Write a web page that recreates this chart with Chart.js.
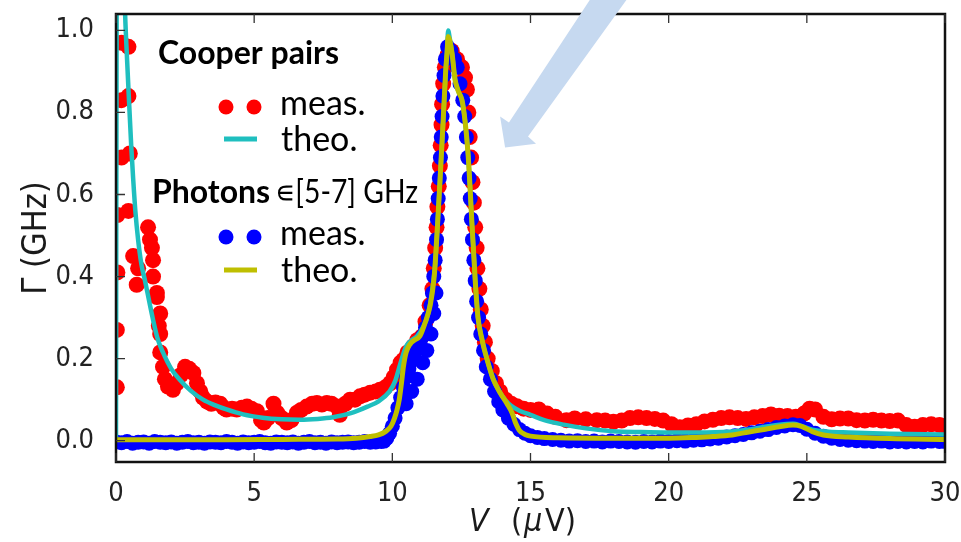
<!DOCTYPE html>
<html>
<head>
<meta charset="utf-8">
<script src="https://cdn.jsdelivr.net/npm/chart.js@4.4.0/dist/chart.umd.min.js"></script>
<style>
  html, body { margin: 0; padding: 0; background: #fff; }
  #wrap { width: 961px; height: 542px; position: relative; }
</style>
</head>
<body>
<div id="wrap"><canvas id="rateChart"></canvas></div>
<script>
// tick positions
var xTicks = [0, 5, 10, 15, 20, 25, 30];
var yTicks = [0.0, 0.2, 0.4, 0.6, 0.8, 1.0];

// Cooper pairs, measured (V in uV, rate in GHz)
var cpMeasV = [0.03, 0.03, 0.05, 0.05, 0.2, 0.5, 0.2, 0.45, 0.2, 0.45, 0.45, 0.62, 0.75, 0.8, 1.16, 1.23, 1.3, 1.34, 1.34, 1.48,
  1.48, 1.6, 1.55, 1.6, 1.6, 1.7, 1.77, 1.88, 2.06, 2.2, 2.35, 2.5, 2.65, 2.8, 2.93, 3.05, 3.15, 3.3, 3.45, 3.6,
  3.77, 3.9, 4.0, 4.2, 4.37, 4.55, 4.74, 4.9, 5.1, 5.25, 5.35, 5.5, 5.7, 5.83, 6.0, 6.18, 6.35, 6.55, 6.7, 6.9,
  7.1, 7.27, 7.45, 7.63, 7.8, 8.0, 8.1, 8.3, 8.47, 8.65, 8.83, 9.0, 9.2, 9.4, 9.55, 9.75, 9.92, 10.05, 10.17, 10.3,
  10.4, 10.55, 10.75, 10.9, 11.07, 11.2, 11.35, 11.45, 11.5, 11.55, 11.6, 11.63, 11.68, 11.72, 11.75, 11.78, 11.8, 11.84, 11.9, 12.0,
  12.15, 12.34, 12.52, 12.63, 12.7, 12.75, 12.8, 12.85, 12.9, 12.95, 13.0, 13.05, 13.08, 13.15, 13.2, 13.27, 13.35, 13.45, 13.6, 13.75,
  13.9, 14.1, 14.3, 14.5, 14.75, 15.0, 15.3, 15.6, 15.9, 16.3, 16.6, 17.0, 17.4, 17.7, 18.0, 18.3, 18.6, 18.9, 19.2, 19.5,
  19.8, 20.1, 20.4, 20.7, 21.0, 21.3, 21.6, 21.9, 22.2, 22.5, 22.8, 23.1, 23.4, 23.7, 24.0, 24.3, 24.6, 24.9, 25.1, 25.3,
  25.6, 25.9, 26.2, 26.5, 26.8, 27.1, 27.4, 27.7, 28.0, 28.3, 28.6, 28.9, 29.2, 29.5, 29.8, 30.0];
var cpMeasG = [0.13, 0.27, 0.41, 0.55, 0.69, 0.70, 0.83, 0.84, 0.97, 0.96, 0.56, 0.45, 0.38, 0.42, 0.52, 0.49, 0.47, 0.44, 0.40, 0.36,
  0.35, 0.31, 0.28, 0.26, 0.215, 0.18, 0.15, 0.132, 0.124, 0.14, 0.16, 0.18, 0.175, 0.165, 0.14, 0.12, 0.105, 0.095, 0.09, 0.093,
  0.09, 0.08, 0.076, 0.078, 0.076, 0.08, 0.083, 0.078, 0.072, 0.05, 0.044, 0.055, 0.09, 0.068, 0.055, 0.044, 0.05, 0.068, 0.075, 0.083,
  0.09, 0.092, 0.088, 0.092, 0.09, 0.083, 0.063, 0.09, 0.10, 0.10, 0.108, 0.112, 0.117, 0.12, 0.124, 0.13, 0.14, 0.155, 0.173, 0.19,
  0.197, 0.215, 0.23, 0.245, 0.254, 0.29, 0.33, 0.37, 0.42, 0.47, 0.52, 0.57, 0.62, 0.67, 0.72, 0.77, 0.82, 0.87, 0.91, 0.94,
  0.95, 0.93, 0.91, 0.885, 0.856, 0.80, 0.74, 0.69, 0.63, 0.58, 0.52, 0.47, 0.42, 0.37, 0.32, 0.28, 0.24, 0.20, 0.17, 0.14,
  0.12, 0.10, 0.09, 0.084, 0.078, 0.075, 0.076, 0.066, 0.058, 0.05, 0.054, 0.052, 0.05, 0.049, 0.046, 0.049, 0.055, 0.057, 0.055, 0.053,
  0.049, 0.04, 0.033, 0.037, 0.04, 0.047, 0.051, 0.055, 0.057, 0.055, 0.053, 0.057, 0.06, 0.064, 0.061, 0.06, 0.058, 0.066, 0.078, 0.076,
  0.058, 0.052, 0.054, 0.054, 0.05, 0.049, 0.051, 0.049, 0.048, 0.049, 0.038, 0.034, 0.038, 0.04, 0.038, 0.036];

// photons 5-7 GHz, measured
var phMeasV = [0, 0.2, 0.4, 0.6, 0.8, 1.0, 1.2, 1.4, 1.6, 1.8, 2.0, 2.2, 2.4, 2.6, 2.8, 3.0, 3.2, 3.4, 3.6, 3.8,
  4.0, 4.2, 4.4, 4.6, 4.8, 5.0, 5.2, 5.4, 5.6, 5.8, 6.0, 6.2, 6.4, 6.6, 6.8, 7.0, 7.2, 7.4, 7.6, 7.8,
  8.0, 8.2, 8.4, 8.6, 8.8, 9.0, 9.2, 9.4, 9.6, 9.7, 9.8, 9.9, 10.0, 10.1, 10.2, 10.3, 10.4, 10.5, 10.6, 10.7,
  10.8, 10.9, 11.0, 11.1, 11.2, 11.3, 11.4, 11.45, 11.5, 11.55, 11.6, 11.63, 11.66, 11.7, 11.74, 11.77, 11.8, 11.83, 11.87, 11.92,
  12.0, 12.12, 12.25, 12.35, 12.45, 12.55, 12.62, 12.68, 12.73, 12.78, 12.82, 12.86, 12.9, 12.95, 13.0, 13.05, 13.12, 13.2, 13.3, 13.4,
  13.55, 13.7, 13.85, 14.0, 14.2, 14.4, 14.6, 14.8, 15.0, 15.25, 15.5, 15.8, 16.1, 16.4, 16.7, 17.0, 17.3, 17.6, 17.9, 18.2,
  18.5, 18.8, 19.1, 19.4, 19.7, 20.0, 20.3, 20.6, 20.9, 21.2, 21.5, 21.8, 22.1, 22.4, 22.7, 23.0, 23.3, 23.6, 23.9, 24.2,
  24.5, 24.75, 25.0, 25.3, 25.6, 25.9, 26.2, 26.5, 26.8, 27.1, 27.4, 27.7, 28.0, 28.3, 28.6, 28.9, 29.2, 29.5, 29.8, 30.0,
  10.5, 10.7, 10.9, 11.1, 11.25, 11.4, 11.5, 11.58];
var phMeasG = [-0.003, -0.005, -0.002, -0.006, -0.004, -0.003, -0.006, -0.002, -0.004, -0.005, -0.003, -0.006, -0.004, -0.002, -0.005, -0.004, -0.006, -0.003, -0.004, -0.005,
  -0.002, -0.004, -0.006, -0.003, -0.005, -0.004, -0.002, -0.005, -0.006, -0.003, -0.004, -0.005, -0.003, -0.006, -0.004, -0.002, -0.005, -0.004, -0.006, -0.003,
  -0.005, -0.004, -0.003, -0.005, -0.004, -0.002, -0.004, -0.003, -0.002, -0.001, 0.006, 0.018, 0.035, 0.055, 0.08, 0.105, 0.13, 0.155, 0.175, 0.195,
  0.21, 0.225, 0.24, 0.255, 0.275, 0.30, 0.33, 0.36, 0.40, 0.44, 0.49, 0.54, 0.59, 0.64, 0.69, 0.74, 0.79, 0.84, 0.89, 0.93,
  0.96, 0.95, 0.93, 0.91, 0.87, 0.83, 0.79, 0.74, 0.69, 0.64, 0.59, 0.54, 0.49, 0.44, 0.39, 0.34, 0.30, 0.26, 0.22, 0.18,
  0.15, 0.12, 0.095, 0.075, 0.055, 0.04, 0.027, 0.018, 0.012, 0.008, 0.005, 0.003, 0.001, -0.001, 0.0, -0.002, -0.001, -0.003, -0.001, -0.002,
  -0.003, -0.004, -0.002, -0.003, -0.001, -0.002, 0.0, -0.001, 0.001, 0.002, 0.004, 0.006, 0.009, 0.012, 0.015, 0.019, 0.023, 0.027, 0.032, 0.036,
  0.039, 0.037, 0.028, 0.018, 0.011, 0.006, 0.003, 0.001, 0.0, -0.001, -0.002, -0.001, -0.003, -0.002, -0.003, -0.002, -0.003, -0.001, -0.002, -0.002,
  0.09, 0.12, 0.15, 0.19, 0.22, 0.26, 0.31, 0.36];

// Cooper pairs, theory
var cpTheoV = [0.0, 0.03, 0.12, 0.25, 0.33, 0.4, 0.47, 0.55, 0.62, 0.7, 0.8, 0.92, 1.05, 1.2, 1.34, 1.5, 1.7, 2.0, 2.3, 2.7,
  3.15, 3.6, 4.0, 4.6, 5.3, 6.0, 6.66, 7.3, 7.85, 8.5, 9.1, 9.5, 9.9, 10.1, 10.3, 10.5, 10.7, 10.9, 11.1, 11.3,
  11.45, 11.55, 11.66, 11.73, 11.84, 11.93, 11.98, 12.02, 12.08, 12.16, 12.27, 12.4, 12.52, 12.63, 12.74, 12.81, 12.88, 12.95, 13.0, 13.1,
  13.25, 13.42, 13.65, 13.9, 14.1, 14.3, 14.6, 15.0, 15.5, 16.2, 17.0, 18.0, 19.0, 20.0, 21.0, 22.2, 23.0, 23.6, 24.0, 24.5,
  24.8, 25.2, 25.8, 26.5, 28.0, 30.0];
var cpTheoG = [0.003, 1.3, 1.6, 1.25, 1.04, 0.93, 0.83, 0.72, 0.64, 0.56, 0.49, 0.43, 0.39, 0.34, 0.295, 0.25, 0.215, 0.175, 0.149, 0.122,
  0.10, 0.086, 0.076, 0.064, 0.056, 0.052, 0.051, 0.053, 0.057, 0.067, 0.083, 0.096, 0.12, 0.145, 0.19, 0.23, 0.245, 0.255, 0.275, 0.31,
  0.37, 0.43, 0.555, 0.64, 0.78, 0.9, 0.95, 1.0, 0.98, 0.945, 0.88, 0.85, 0.83, 0.78, 0.70, 0.62, 0.53, 0.45, 0.39, 0.30,
  0.245, 0.2, 0.15, 0.117, 0.098, 0.085, 0.073, 0.063, 0.05, 0.039, 0.03, 0.023, 0.021, 0.02, 0.02, 0.022, 0.028, 0.035, 0.039, 0.041,
  0.036, 0.027, 0.022, 0.02, 0.017, 0.015];

// photons, theory
var phTheoV = [0.0, 2.0, 4.0, 6.0, 8.0, 8.7, 9.2, 9.5, 9.75, 9.95, 10.08, 10.17, 10.25, 10.33, 10.4, 10.5, 10.64, 10.8, 11.0, 11.2,
  11.37, 11.5, 11.55, 11.66, 11.73, 11.84, 11.93, 11.98, 12.02, 12.08, 12.16, 12.27, 12.4, 12.52, 12.63, 12.74, 12.81, 12.88, 12.95, 13.0,
  13.1, 13.25, 13.42, 13.65, 13.9, 14.15, 14.33, 14.45, 14.6, 14.8, 15.0, 16.0, 18.0, 20.0, 21.0, 21.6, 22.3, 22.8, 23.5, 24.0,
  24.5, 24.8, 25.2, 25.6, 26.5, 28.0, 30.0];
var phTheoG = [0.002, 0.002, 0.002, 0.003, 0.004, 0.006, 0.01, 0.014, 0.022, 0.035, 0.055, 0.075, 0.1, 0.14, 0.18, 0.215, 0.235, 0.245, 0.255, 0.29,
  0.33, 0.39, 0.43, 0.555, 0.64, 0.78, 0.9, 0.945, 0.985, 0.975, 0.945, 0.88, 0.85, 0.83, 0.78, 0.70, 0.62, 0.53, 0.45, 0.39,
  0.30, 0.245, 0.2, 0.15, 0.117, 0.09, 0.068, 0.045, 0.025, 0.015, 0.011, 0.007, 0.006, 0.006, 0.008, 0.01, 0.014, 0.02, 0.028, 0.034,
  0.038, 0.035, 0.022, 0.014, 0.009, 0.005, 0.003];

function pts(xs, ys) {
  return xs.map(function(v, i) { return { x: v, y: ys[i] }; });
}

var RED = '#ff0000', BLUE = '#0000ff', CYAN = '#1fbfbf', OLIVE = '#bfbf00';
var TICK_FONT = "'DejaVu Sans Condensed', 'DejaVu Sans', sans-serif";
var LEG_FONT = "Lato, 'Open Sans', sans-serif";

// big pale arrow pointing at the resonance, in data units
var arrowShape = [[17.3, 1.09], [18.64, 1.09], [14.91, 0.7415], [15.2, 0.724], [14.08, 0.7146], [13.9, 0.79], [14.22, 0.7756]];

var decor = {
  id: 'decor',
  beforeDraw: function(chart) {
    var c = chart.ctx;
    c.save();
    c.fillStyle = '#fff';
    c.fillRect(0, 0, chart.width, chart.height);
    c.restore();
  },
  afterDraw: function(chart) {
    var c = chart.ctx, a = chart.chartArea, x = chart.scales.x, y = chart.scales.y;
    c.save();

    // frame + inward ticks
    c.strokeStyle = '#111';
    c.lineWidth = 2.5;
    c.strokeRect(a.left, a.top, a.right - a.left, a.bottom - a.top);
    c.lineWidth = 1.3;
    c.strokeStyle = '#333';
    c.beginPath();
    xTicks.forEach(function(t) {
      var px = x.getPixelForValue(t);
      c.moveTo(px, a.bottom); c.lineTo(px, a.bottom - 9);
      c.moveTo(px, a.top); c.lineTo(px, a.top + 9);
    });
    yTicks.forEach(function(t) {
      var py = y.getPixelForValue(t);
      c.moveTo(a.left, py); c.lineTo(a.left + 9, py);
    });
    c.stroke();

    // arrow
    c.fillStyle = '#c6d9f0';
    c.beginPath();
    arrowShape.forEach(function(p, i) {
      var px = x.getPixelForValue(p[0]), py = y.getPixelForValue(p[1]);
      if (i === 0) c.moveTo(px, py); else c.lineTo(px, py);
    });
    c.closePath();
    c.fill();

    // axis titles
    c.fillStyle = '#1a1a1a';
    c.textBaseline = 'alphabetic';
    var ty = 531;
    [['italic 32px ' + TICK_FONT, 'V', 469], ['32px ' + TICK_FONT, '(', 511],
     ['italic 32px ' + TICK_FONT, '\u03bc', 524], ['32px ' + TICK_FONT, 'V)', 545]].forEach(function(p) {
      c.font = p[0];
      c.fillText(p[1], p[2], ty);
    });
    c.save();
    c.translate(46, (a.top + a.bottom) / 2);
    c.rotate(-Math.PI / 2);
    c.font = '34px ' + TICK_FONT;
    c.textAlign = 'center';
    c.fillText('\u0393 (GHz)', 0, 0);
    c.restore();

    // legend
    c.fillStyle = '#000';
    c.textAlign = 'left';
    c.font = 'bold 32px ' + LEG_FONT;
    c.fillText('Cooper pairs', 158, 64);
    c.fillText('Photons', 152, 203);
    // range text, narrowed horizontally to its printed width
    c.font = '32px ' + LEG_FONT;
    var rng = '\u220a[5-7] GHz';
    var sx = 143 / c.measureText(rng).width;
    c.save();
    c.translate(275, 203);
    c.scale(sx, 1);
    c.fillText(rng, 0, 0);
    c.restore();

    function dots(col, cy) {
      c.fillStyle = col;
      [226, 254].forEach(function(cx) {
        c.beginPath(); c.arc(cx, cy, 7.5, 0, Math.PI * 2); c.fill();
      });
    }
    function dash(col, cy) {
      c.strokeStyle = col;
      c.lineWidth = 5;
      c.beginPath(); c.moveTo(224, cy); c.lineTo(257, cy); c.stroke();
    }
    dots(RED, 107); dash(CYAN, 139);
    dots(BLUE, 237); dash(OLIVE, 270);
    c.fillStyle = '#000';
    c.font = '34px ' + LEG_FONT;
    c.fillText('meas.', 280, 115);
    c.fillText('theo.', 281, 151);
    c.fillText('meas.', 280, 245);
    c.fillText('theo.', 281, 282);
    c.restore();
  }
};

new Chart(document.getElementById('rateChart'), {
  type: 'scatter',
  data: {
    datasets: [
      { label: 'theo. photons', data: pts(phTheoV, phTheoG), showLine: true, borderColor: OLIVE, borderWidth: 5,
        pointRadius: 0, cubicInterpolationMode: 'monotone', order: 1, clip: 0 },
      { label: 'theo. Cooper pairs', data: pts(cpTheoV, cpTheoG), showLine: true, borderColor: CYAN, borderWidth: 4.5,
        pointRadius: 0, cubicInterpolationMode: 'monotone', order: 2, clip: 0 },
      { label: 'meas. photons', data: pts(phMeasV, phMeasG), backgroundColor: BLUE, borderWidth: 0,
        pointRadius: 7.5, order: 3, clip: 0 },
      { label: 'meas. Cooper pairs', data: pts(cpMeasV, cpMeasG), backgroundColor: RED, borderWidth: 0,
        pointRadius: 8, order: 4, clip: 0 }
    ]
  },
  options: {
    responsive: true,
    maintainAspectRatio: false,
    animation: false,
    devicePixelRatio: 1,
    layout: { padding: { top: 14, right: 16, left: 0, bottom: 0 } },
    plugins: { legend: { display: false }, tooltip: { enabled: false } },
    scales: {
      x: {
        type: 'linear', min: 0, max: 30,
        grid: { display: false }, border: { display: false },
        afterBuildTicks: function(s) { s.ticks = xTicks.map(function(v) { return { value: v }; }); },
        afterFit: function(s) { s.height = 80; s.paddingLeft = 0; s.paddingRight = 0; },
        ticks: { color: '#222', padding: 8, maxRotation: 0, font: { family: TICK_FONT, size: 27 },
          callback: function(v) { return String(v); } }
      },
      y: {
        type: 'linear', min: -0.052, max: 1.04,
        grid: { display: false }, border: { display: false },
        afterBuildTicks: function(s) { s.ticks = yTicks.map(function(v) { return { value: v }; }); },
        afterFit: function(s) { s.width = 116; s.paddingTop = 0; s.paddingBottom = 0; },
        ticks: { color: '#222', padding: 14, font: { family: TICK_FONT, size: 27 },
          callback: function(v) { return v.toFixed(1); } }
      }
    }
  },
  plugins: [decor]
});
</script>
</body>
</html>
